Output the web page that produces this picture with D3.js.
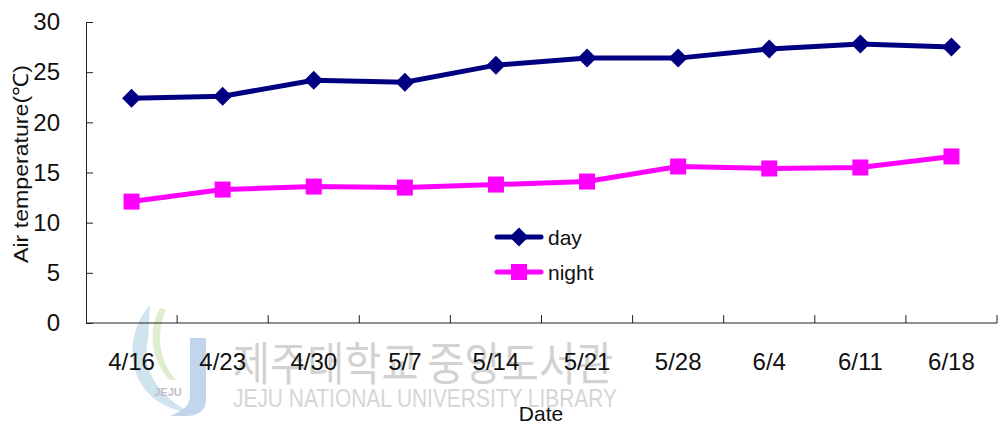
<!DOCTYPE html>
<html><head><meta charset="utf-8">
<script src="https://cdn.jsdelivr.net/npm/d3@7"></script>
<style>
html,body{margin:0;padding:0;background:#fff;}
svg{display:block;font-family:"Liberation Sans",Arial,sans-serif;}
</style></head>
<body>
<svg id="c" width="1007" height="425"></svg>
<script>
const categories = ["4/16","4/23","4/30","5/7","5/14","5/21","5/28","6/4","6/11","6/18"];
const dayValues = [22.4,22.6,24.2,24.0,25.7,26.4,26.4,27.3,27.8,27.5];
const nightValues = [12.1,13.3,13.6,13.5,13.8,14.1,15.6,15.4,15.5,16.6];
const yTicks = [0,5,10,15,20,25,30];
const seriesNames = ["day","night"];

const svg = d3.select("#c");
const mLeft = 86, mRight = 997, mTop = 22, mBottom = 323;

const x = d3.scaleBand().domain(categories).range([mLeft, mRight]).padding(0);
const y = d3.scaleLinear().domain([0, 30]).range([mBottom, mTop]);

// watermark
const wm = svg.append("g");
const logo = wm.append("g").attr("opacity", 0.55);
logo.append("path").attr("d","M150,305 C128,330 125,370 150,395 C160,405 175,410 185,412 L190,412 C165,400 140,375 148,340 Z").attr("fill","#a9cfe3");
logo.append("path").attr("d","M160,308 C148,330 150,360 170,380 L176,380 C158,360 156,332 166,310 Z").attr("fill","#c6dfa8");
logo.append("path").attr("d","M190,338 L206,338 L206,400 C206,412 196,416 186,416 L170,416 C185,410 190,405 190,395 Z").attr("fill","#8fb5dd");
logo.append("text").attr("x",168).attr("y",396).attr("text-anchor","middle").attr("font-size",11).attr("font-weight","bold").attr("fill","#8a8a9a").text("JEJU");
wm.append("text").attr("x",233).attr("y",380).attr("font-family","'Noto Sans CJK KR',sans-serif")
  .attr("font-size",46).attr("fill","#d2d2d2").attr("textLength",380).attr("lengthAdjust","spacingAndGlyphs").text("제주대학교 중앙도서관");
wm.append("text").attr("x",233).attr("y",407).attr("font-size",25).attr("fill","#d6d6d6")
  .attr("textLength",384).attr("lengthAdjust","spacingAndGlyphs").text("JEJU NATIONAL UNIVERSITY LIBRARY");

// axes
const yAxis = d3.axisLeft(y).tickValues(yTicks).tickSize(-7).tickPadding(26);
const gy = svg.append("g").attr("transform",`translate(${mLeft},0)`).call(yAxis);
gy.select(".domain").attr("stroke","#222");
gy.selectAll(".tick line").attr("stroke","#222");
gy.selectAll("text").attr("font-size",24).attr("fill","#111").attr("font-family","'Liberation Sans',Arial,sans-serif");

const gx = svg.append("g").attr("transform",`translate(0,${mBottom})`);
gx.append("line").attr("x1",mLeft).attr("x2",mRight).attr("stroke","#222");
gx.selectAll("line.tk").data(categories).enter().append("line").attr("class","tk")
  .attr("x1",d=>x(d)+x.bandwidth()).attr("x2",d=>x(d)+x.bandwidth()).attr("y1",0).attr("y2",-8).attr("stroke","#222");
gx.selectAll("text").data(categories).enter().append("text")
  .attr("x",d=>x(d)+x.bandwidth()/2).attr("y",47).attr("text-anchor","middle")
  .attr("font-size",24).attr("fill","#111").text(d=>d);

svg.append("text").attr("x",541).attr("y",421).attr("text-anchor","middle").attr("font-size",21).attr("fill","#111").text("Date");
svg.append("text").attr("transform","translate(28,164) rotate(-90)").attr("text-anchor","middle")
  .attr("font-size",21).attr("fill","#111").attr("textLength",198).attr("lengthAdjust","spacingAndGlyphs").text("Air temperature(℃)");

// lines
const cx = d => x(d) + x.bandwidth()/2;
const line = d3.line().x(d=>cx(d.c)).y(d=>y(d.v));
const dayData = categories.map((c,i)=>({c, v:dayValues[i]}));
const nightData = categories.map((c,i)=>({c, v:nightValues[i]}));
const dayColor = "#000080", nightColor = "#ff00ff";

svg.append("path").datum(nightData).attr("d",line).attr("fill","none").attr("stroke",nightColor).attr("stroke-width",5);
svg.append("path").datum(dayData).attr("d",line).attr("fill","none").attr("stroke",dayColor).attr("stroke-width",5);

const diamond = (px,py,r)=>`M${px},${py-r}L${px+r},${py}L${px},${py+r}L${px-r},${py}Z`;
svg.selectAll("path.dm").data(dayData).enter().append("path").attr("class","dm")
  .attr("d",d=>diamond(cx(d.c),y(d.v),9.5)).attr("fill",dayColor);
svg.selectAll("rect.sq").data(nightData).enter().append("rect").attr("class","sq")
  .attr("x",d=>cx(d.c)-8).attr("y",d=>y(d.v)-8).attr("width",16).attr("height",16).attr("fill",nightColor);

// legend
const lg = svg.append("g");
const legendRows = [{name:seriesNames[0], color:dayColor, y:237},{name:seriesNames[1], color:nightColor, y:272}];
legendRows.forEach((r,i)=>{
  lg.append("line").attr("x1",497).attr("x2",541).attr("y1",r.y).attr("y2",r.y).attr("stroke",r.color).attr("stroke-width",5).attr("stroke-linecap","round");
  if(i===0) lg.append("path").attr("d",diamond(519,r.y,9.5)).attr("fill",r.color);
  else lg.append("rect").attr("x",511).attr("y",r.y-8).attr("width",16).attr("height",16).attr("fill",r.color);
  lg.append("text").attr("x",548).attr("y",r.y+8).attr("font-size",21).attr("fill","#111").text(r.name);
});
</script>
</body></html>
